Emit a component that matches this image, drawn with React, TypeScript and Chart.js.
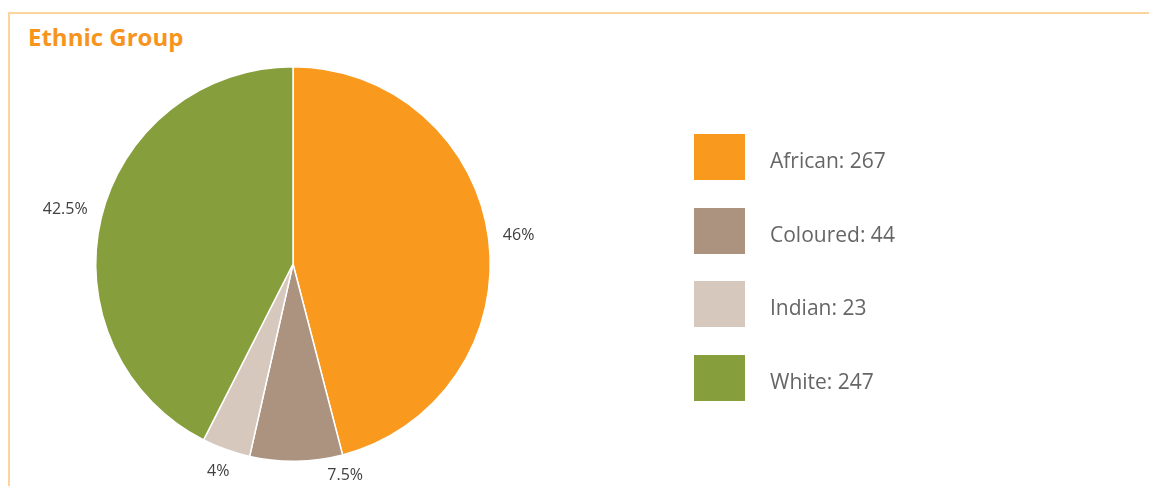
import React, { useEffect, useRef } from 'react';
import { Chart, registerables } from 'chart.js';

Chart.register(...registerables);

const categories = ['African', 'Coloured', 'Indian', 'White'];
const counts = [267, 44, 23, 247];
const percentLabels = ['46%', '7.5%', '4%', '42.5%'];
const colors = ['#F99A1E', '#AB937F', '#D6C8BD', '#879E3D'];

const FONT = "'Open Sans', 'Noto Sans', sans-serif";
const W = 1149;
const H = 486;

const pctLabelPlugin = {
  id: 'pctLabels',
  afterDatasetsDraw(chart: any) {
    const ctx = chart.ctx;
    const meta = chart.getDatasetMeta(0);
    ctx.save();
    ctx.font = `16px ${FONT}`;
    ctx.fillStyle = '#404040';
    ctx.textAlign = 'center';
    ctx.textBaseline = 'middle';
    const limit = chart.height - 11;
    meta.data.forEach((arc: any, i: number) => {
      const p = arc.getProps(['x', 'y', 'startAngle', 'endAngle', 'outerRadius'], true);
      const mid = (p.startAngle + p.endAngle) / 2;
      const text = percentLabels[i];
      const w = ctx.measureText(text).width;
      const h = 12;
      const c = Math.cos(mid);
      const s = Math.sin(mid);
      const r = p.outerRadius * 1.07 + (Math.abs(c) * w) / 2 + (Math.abs(s) * h) / 2;
      let cx = p.x + c * r;
      let cy = p.y + s * r;
      if (cy > limit) {
        cy = limit;
        const dy = cy - p.y;
        const dx = Math.sqrt(Math.max(r * r - dy * dy, 0));
        cx = p.x + (c >= 0 ? dx : -dx);
      }
      ctx.fillText(text, cx, cy);
    });
    ctx.restore();
  },
};

const sideLegendPlugin = {
  id: 'sideLegend',
  afterDraw(chart: any) {
    const ctx = chart.ctx;
    const left = 694;
    const top = 134;
    const boxW = 51;
    const boxH = 46;
    const gap = 25;
    const step = 73.7;
    const ds = chart.data.datasets[0];
    ctx.save();
    ctx.font = `21px ${FONT}`;
    ctx.textAlign = 'left';
    ctx.textBaseline = 'alphabetic';
    chart.data.labels.forEach((lab: string, i: number) => {
      const y = top + i * step;
      ctx.fillStyle = ds.backgroundColor[i];
      ctx.fillRect(left, Math.round(y), boxW, boxH);
      ctx.fillStyle = '#666666';
      ctx.fillText(`${lab}: ${ds.data[i]}`, left + boxW + gap, y + 34);
    });
    ctx.restore();
  },
};

export default function App() {
  const ref = useRef<HTMLCanvasElement>(null);

  useEffect(() => {
    if (!ref.current) return;
    const chart = new Chart(ref.current, {
      type: 'pie',
      data: {
        labels: categories,
        datasets: [
          {
            data: counts,
            backgroundColor: colors,
            borderColor: '#ffffff',
            borderWidth: 1.5,
          },
        ],
      },
      options: {
        responsive: false,
        animation: false,
        layout: { padding: { left: 95, top: 66, right: 658, bottom: 24 } },
        plugins: {
          legend: { display: false },
          tooltip: { enabled: false },
          title: { display: false },
        },
      },
      plugins: [pctLabelPlugin, sideLegendPlugin],
    });
    return () => chart.destroy();
  }, []);

  return (
    <div style={{ position: 'fixed', left: 0, top: 0, width: W, height: H, overflow: 'hidden', background: '#fff' }}>
      <div
        style={{
          position: 'absolute',
          left: 8,
          top: 12,
          width: W - 8,
          height: H,
          borderTop: '2px solid #FDD49B',
          borderLeft: '2px solid #FDD49B',
          boxSizing: 'border-box',
        }}
      />
      <div
        style={{
          position: 'absolute',
          left: 28,
          top: 21,
          fontFamily: FONT,
          fontWeight: 700,
          fontSize: 24,
          lineHeight: '32px',
          color: '#F7941D',
          whiteSpace: 'nowrap',
        }}
      >
        Ethnic Group
      </div>
      <canvas ref={ref} width={W} height={H} style={{ position: 'absolute', left: 0, top: 0, width: W, height: H }} />
    </div>
  );
}
